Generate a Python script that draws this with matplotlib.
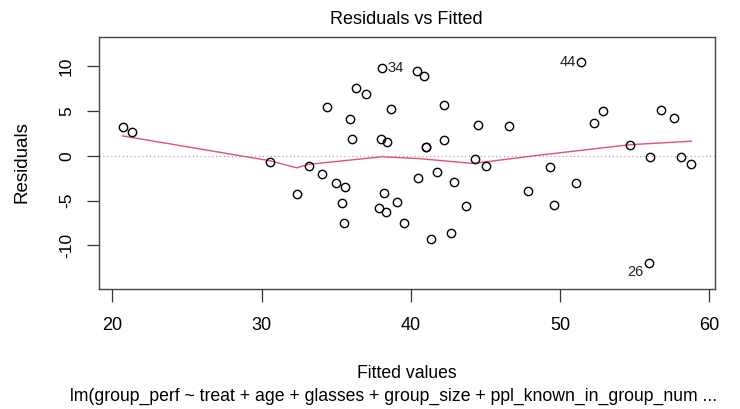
import matplotlib
matplotlib.use("Agg")
import matplotlib.pyplot as plt

plt.rcParams['font.family'] = ['Liberation Sans', 'DejaVu Sans']

# Fitted values and residuals of the model
fitted = [20.68, 21.28, 30.57, 32.35, 33.16, 34.05, 34.41, 34.96, 35.59, 35.36,
          35.54, 35.90, 36.03, 36.32, 36.97, 38.08, 38.68, 38.03, 38.42, 38.20,
          37.90, 38.33, 39.06, 39.55, 40.39, 40.47, 40.89, 42.23, 41.02, 41.02,
          42.23, 41.76, 42.91, 41.34, 42.71, 43.72, 44.50, 44.34, 45.08, 46.57,
          47.86, 49.33, 49.58, 51.05, 51.43, 52.27, 52.87, 54.71, 56.06, 56.00,
          56.75, 57.65, 58.12, 58.82]
residuals = [3.24, 2.66, -0.67, -4.31, -1.12, -2.08, 5.47, -3.02, -3.53, -5.32,
             -7.55, 4.07, 1.90, 7.60, 6.97, 9.83, 5.25, 1.94, 1.56, -4.20,
             -5.88, -6.32, -5.14, -7.55, 9.50, -2.53, 8.94, 5.70, 0.94, 0.94,
             1.72, -1.79, -2.90, -9.34, -8.67, -5.62, 3.46, -0.34, -1.12, 3.35,
             -3.91, -1.30, -5.51, -3.08, 10.47, 3.69, 5.03, 1.27, -0.11, -12.02,
             5.14, 4.25, -0.11, -0.89]

# Smoothed trend (lowess) through the residuals
smooth_x = [20.68, 30.57, 32.35, 33.16, 38.08, 40.50, 44.18, 48.64, 54.71, 58.82]
smooth_y = [2.23, -0.55, -1.34, -0.95, -0.10, -0.30, -0.85, 0.08, 1.25, 1.64]

# Observations flagged with the largest residuals
flag_ids = ["34", "44", "26"]
flag_x = [38.08, 51.43, 56.00]
flag_y = [9.83, 10.47, -12.02]

x_ticks = [20, 30, 40, 50, 60]
y_ticks = [-10, -5, 0, 5, 10]

W, H = 740, 409
fig = plt.figure(figsize=(W / 100, H / 100), dpi=100)
left, right, top, bottom = 99, 715, 37, 289
ax = fig.add_axes([left / W, 1 - bottom / H, (right - left) / W, (bottom - top) / H])

ax.axhline(0, color='#9a9a9a', lw=0.8, ls=(0, (1, 2.5)), zorder=1)
ax.plot(smooth_x, smooth_y, color='#DF536B', lw=1.0, zorder=2)
ax.plot(fitted, residuals, ls='none', marker='o', ms=6, mfc='none',
        mec='black', mew=1.0, zorder=3)

for lab, fx, fy in zip(flag_ids, flag_x, flag_y):
    right_side = fx > 40
    dy = -6 if fy < 0 else 0
    ax.annotate(lab, (fx, fy), xytext=(-4 if right_side else 4, dy),
                textcoords='offset points', ha='right' if right_side else 'left',
                va='center', fontsize=10.5, color='#222222')

ax.set_xlim(19.1, 60.4)
ax.set_ylim(-14.9, 13.3)
ax.set_xticks(x_ticks)
ax.set_yticks(y_ticks)
ax.set_xticklabels([str(v) for v in x_ticks], fontsize=13)
ax.set_yticklabels([str(v) for v in y_ticks], rotation=90, va='center',
                   fontsize=12.5)
ax.tick_params(axis='both', direction='out', length=9, width=0.9,
               colors='#333333', labelcolor='black')
ax.tick_params(axis='x', pad=11)
ax.tick_params(axis='y', pad=9)
for s in ax.spines.values():
    s.set_color('#444444')
    s.set_linewidth(1.0)

fig.text(406 / W, 1 - 20 / H, "Residuals vs Fitted", ha='center', va='center',
         fontsize=13)
fig.text(22 / W, 1 - 162 / H, "Residuals", ha='center', va='center',
         rotation=90, fontsize=13.5)
fig.text(407 / W, 1 - 374 / H, "Fitted values", ha='center', va='center',
         fontsize=12.7)
fig.text(394 / W, 1 - 396 / H,
         "lm(group_perf ~ treat + age + glasses + group_size + ppl_known_in_group_num ...",
         ha='center', va='center', fontsize=12.7)

fig.savefig("out.png", dpi=100)
